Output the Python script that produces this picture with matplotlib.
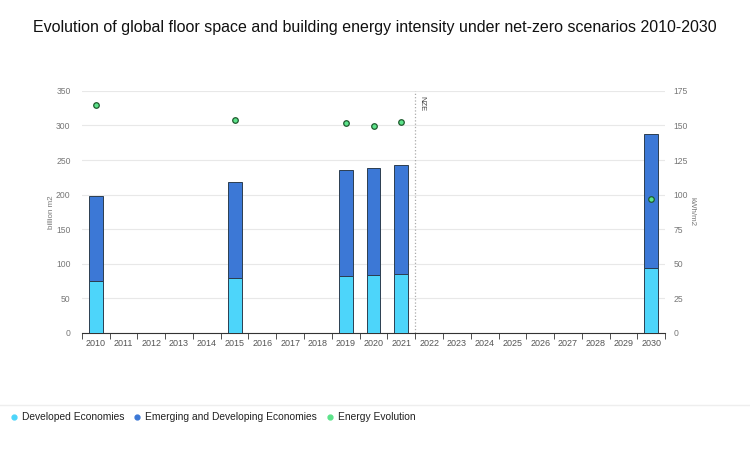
import numpy as np
import matplotlib.pyplot as plt
from matplotlib.lines import Line2D

plt.rcParams['font.family'] = ['Liberation Sans', 'DejaVu Sans']

# data
years = [str(a) for a in range(2010, 2031)]
developed = {'2010': 74.5, '2015': 79, '2019': 83, '2020': 84.5, '2021': 86, '2030': 94.5}
emerging_total = {'2010': 198.5, '2015': 218.5, '2019': 235.5, '2020': 238.5, '2021': 242.5, '2030': 287.5}
energy = {'2010': 164.5, '2015': 154, '2019': 151.5, '2020': 149.5, '2021': 152.5, '2030': 96.5}

dev_vals = np.array([developed.get(y, 0) for y in years])
emg_vals = np.array([emerging_total.get(y, 0) - developed.get(y, 0) for y in years])
x = np.arange(len(years))

c_dev = '#4dd5fa'
c_emg = '#3c78d6'
c_en = '#5ce38a'

fig = plt.figure(figsize=(7.5, 4.5), dpi=100)
ax = fig.add_axes([0.109, 0.26, 0.778, 0.538])

has = np.array([y in developed for y in years])
ax.bar(x[has], dev_vals[has], width=0.5, color=c_dev, edgecolor='#2c3e50', linewidth=0.7, zorder=3)
ax.bar(x[has], emg_vals[has], bottom=dev_vals[has], width=0.5, color=c_emg,
       edgecolor='#2c3e50', linewidth=0.7, zorder=3)

ax.set_xlim(-0.5, len(years) - 0.5)
ax.set_ylim(0, 350)
ax.set_yticks(np.arange(0, 351, 50))
ax.set_xticks(x)
ax.set_xticklabels(years)
ax.set_xticks(np.arange(-0.5, len(years), 1), minor=True)
ax.tick_params(axis='x', which='major', length=0, labelsize=6.5, colors='#555555', pad=4)
ax.tick_params(axis='x', which='minor', length=4, color='#333333', direction='out')
ax.tick_params(axis='y', length=0, labelsize=6.2, colors='#777777', pad=8)
ax.grid(axis='y', color='#e8e8e8', linewidth=0.8, zorder=0)
for s in ['top', 'right', 'left']:
    ax.spines[s].set_visible(False)
ax.spines['bottom'].set_color('#333333')
ax.set_ylabel('billion m2', fontsize=5.8, color='#777777')
ax.yaxis.set_label_coords(-0.046, 0.5)

# NZE marker line
ax.axvline(11.5, color='#aaaaaa', linestyle=':', linewidth=0.9, zorder=2)
ax.text(11.62, 343, 'NZE', rotation=-90, fontsize=5.5, color='#444444', va='top', ha='left')

ax2 = ax.twinx()
ax2.set_ylim(0, 175)
ax2.set_yticks(np.arange(0, 176, 25))
ax2.tick_params(axis='y', length=0, labelsize=6.2, colors='#777777', pad=6)
for s in ['top', 'right', 'left', 'bottom']:
    ax2.spines[s].set_visible(False)
ax2.set_ylabel('kWh/m2', fontsize=5.8, color='#777777', rotation=-90)
ax2.yaxis.set_label_coords(1.052, 0.5)
en_x = [x[years.index(y)] for y in energy]
ax2.scatter(en_x, list(energy.values()), s=16, color=c_en, edgecolor='#1f5a2e', linewidth=0.9, zorder=5)

fig.suptitle('Evolution of global floor space and building energy intensity under net-zero scenarios 2010-2030',
             x=0.5, y=0.955, fontsize=11.5, color='#111111')

# separator and legend at the bottom
fig.add_artist(Line2D([0, 1], [0.1, 0.1], color='#eeeeee', linewidth=1))
handles = [Line2D([], [], marker='o', linestyle='', color=c, markersize=3.5) for c in (c_dev, c_emg, c_en)]
fig.legend(handles, ['Developed Economies', 'Emerging and Developing Economies', 'Energy Evolution'],
           loc='center left', bbox_to_anchor=(-0.002, 0.073), ncol=3, frameon=False, fontsize=7.4,
           handletextpad=0.15, columnspacing=0.7, handlelength=1.2, labelcolor='#222222')

plt.savefig('out.png', dpi=100)
plt.close()
